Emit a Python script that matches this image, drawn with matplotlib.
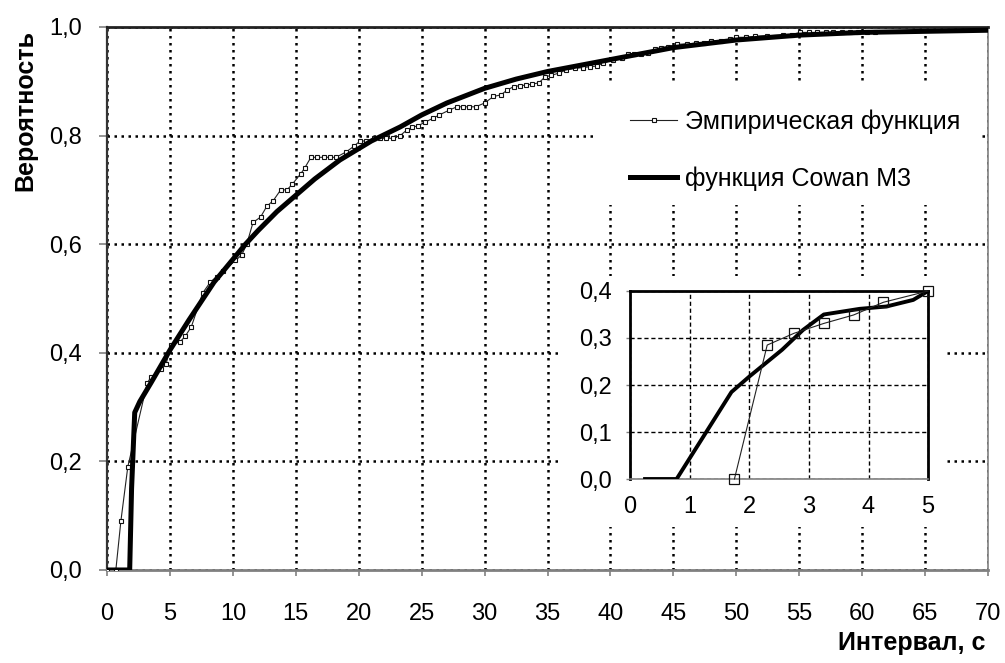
import matplotlib

matplotlib.use("Agg")
import matplotlib.pyplot as plt
from matplotlib.patches import Rectangle

plt.rcParams["font.family"] = ["Liberation Sans", "DejaVu Sans"]

# основной график: эмпирическая функция распределения интервалов
emp_x = [0, 0.7, 1.1, 1.65, 3.2, 3.5, 4.3, 4.7, 5.1, 5.8, 6.2, 6.7, 7.6, 8.2, 8.7,
         9.2, 10.2, 10.7, 11.1, 11.6, 12.2, 12.7, 13.2, 13.8, 14.3, 14.7, 15.4,
         15.7, 16.2, 16.7, 17.2, 17.7, 18.2, 19.0, 19.6, 20.1, 20.6, 21.2, 21.7,
         22.2, 22.7, 23.3, 23.8, 24.2, 24.7, 25.3, 25.9, 26.4, 27.2, 27.8, 28.3,
         28.8, 29.3, 30.0, 30.7, 31.3, 31.8, 32.3, 32.8, 33.3, 33.8, 34.3, 34.8,
         35.3, 35.9, 36.5, 37.2, 37.8, 38.4, 38.9, 39.4, 40.2, 40.9, 41.4, 41.9,
         42.4, 43.0, 43.5, 44.0, 44.6, 45.3, 46.1, 46.8, 47.4, 48.0, 48.8, 49.5,
         50.0, 50.8, 51.5, 52.4, 53.7, 54.4, 55.1, 55.8, 56.4, 57.1, 57.7, 58.4,
         59.0, 59.7, 60.4, 61.0]
emp_y = [0, 0, 0.09, 0.19, 0.345, 0.355, 0.37, 0.38, 0.415, 0.42, 0.43, 0.448,
         0.51, 0.53, 0.54, 0.55, 0.57, 0.58, 0.60, 0.64, 0.65, 0.67, 0.68, 0.70,
         0.70, 0.71, 0.73, 0.74, 0.76, 0.76, 0.76, 0.76, 0.76, 0.77, 0.78, 0.79,
         0.79, 0.795, 0.795, 0.795, 0.795, 0.80, 0.81, 0.815, 0.818, 0.825, 0.832,
         0.838, 0.847, 0.853, 0.853, 0.853, 0.853, 0.86, 0.872, 0.875, 0.884, 0.89,
         0.892, 0.893, 0.895, 0.897, 0.908, 0.911, 0.915, 0.921, 0.924, 0.925,
         0.927, 0.928, 0.933, 0.94, 0.943, 0.95, 0.951, 0.951, 0.952, 0.959, 0.962,
         0.964, 0.968, 0.969, 0.97, 0.971, 0.974, 0.975, 0.977, 0.981, 0.981,
         0.983, 0.984, 0.985, 0.986, 0.99, 0.99, 0.99, 0.99, 0.99, 0.99, 0.99,
         0.99, 0.99, 0.99]

cowan_x = [0, 1.8, 1.95, 2.2, 2.6, 3.5, 5.0, 6.5, 8.5, 11.0, 12.0, 13.5, 15.0,
           16.5, 18.5, 21.0, 23.3, 25.0, 27.0, 30.0, 32.5, 35.0, 40.0, 45.0,
           50.0, 55.0, 60.0, 65.0, 70.0]
cowan_y = [0, 0, 0.15, 0.29, 0.31, 0.345, 0.405, 0.46, 0.53, 0.60, 0.625, 0.66,
           0.69, 0.72, 0.755, 0.79, 0.816, 0.838, 0.86, 0.887, 0.904, 0.918,
           0.94, 0.962, 0.976, 0.985, 0.99, 0.992, 0.994]

# врезка: начальный участок
ins_emp_x = [1.75, 2.3, 2.75, 3.25, 3.75, 4.25, 5.0]
ins_emp_y = [0, 0.285, 0.31, 0.331, 0.349, 0.376, 0.40]
ins_cowan_x = [0.25, 0.78, 1.7, 2.0, 2.55, 2.9, 3.25, 3.85, 4.3, 4.75, 5.0]
ins_cowan_y = [0, 0, 0.185, 0.218, 0.275, 0.317, 0.35, 0.362, 0.367, 0.381, 0.40]

x_ticks = list(range(0, 75, 5))
y_ticks = [0, 0.2, 0.4, 0.6, 0.8, 1.0]
y_tick_labels = ["0,0", "0,2", "0,4", "0,6", "0,8", "1,0"]
ins_x_ticks = [0, 1, 2, 3, 4, 5]
ins_y_ticks = [0, 0.1, 0.2, 0.3, 0.4]
ins_y_tick_labels = ["0,0", "0,1", "0,2", "0,3", "0,4"]

fig = plt.figure(figsize=(10.05, 6.63), dpi=100)
ax = fig.add_axes([0.1065, 0.1403, 0.8766, 0.819])

ax.plot(emp_x, emp_y, color="#222222", linewidth=0.8, marker="s", markersize=3.5,
        markerfacecolor="white", markeredgecolor="#111111", markeredgewidth=0.8,
        label="Эмпирическая функция", zorder=3)
ax.plot(cowan_x, cowan_y, color="black", linewidth=3.6, label="функция Cowan M3",
        zorder=4)

ax.set_xlim(0, 70)
ax.set_ylim(0, 1.0)
ax.set_xticks(x_ticks)
ax.set_yticks(y_ticks)
ax.set_yticklabels(y_tick_labels)
ax.tick_params(axis="both", labelsize=17, direction="out", color="#808080",
               width=1.2)
ax.tick_params(axis="x", length=4, pad=20)
ax.tick_params(axis="y", length=6, pad=12)
ax.grid(True, color="black", linestyle=(0, (1, 1.8)), linewidth=1.8)
ax.spines["left"].set_color("#333333")
ax.spines["left"].set_linewidth(1.6)
ax.spines["top"].set_color("#222222")
ax.spines["top"].set_linewidth(2.0)
ax.spines["bottom"].set_color("#808080")
ax.spines["bottom"].set_linewidth(2.0)
ax.spines["right"].set_color("#808080")
ax.spines["right"].set_linewidth(1.2)

# белые подложки под легенду и врезку
ax.add_patch(Rectangle((0.554, 0.672), 0.439, 0.225, transform=ax.transAxes,
                       facecolor="white", edgecolor="none", zorder=1.8))
ax.add_patch(Rectangle((0.512, 0.079), 0.439, 0.462, transform=ax.transAxes,
                       facecolor="white", edgecolor="none", zorder=1.8))

ax.legend(loc="upper left", bbox_to_anchor=(0.582, 0.866), frameon=False,
          fontsize=18, handlelength=1.9, handletextpad=0.32, labelspacing=1.3,
          borderaxespad=0)

fig.text(0.025, 0.955, "Вероятность", rotation=90, ha="center", va="top",
         fontsize=18, fontweight="bold")
fig.text(0.98, 0.030, "Интервал, с", ha="right", va="center", fontsize=18,
         fontweight="bold")

# врезка
ins = fig.add_axes([0.627, 0.2775, 0.2965, 0.2836])
ins.plot(ins_cowan_x, ins_cowan_y, color="black", linewidth=2.8, zorder=3)
ins.plot(ins_emp_x, ins_emp_y, color="#222222", linewidth=0.8, marker="s",
         markersize=7, markerfacecolor="none", markeredgecolor="#111111",
         markeredgewidth=0.9, zorder=4, clip_on=False)
ins.set_xlim(0, 5)
ins.set_ylim(0, 0.4)
ins.set_xticks(ins_x_ticks)
ins.set_yticks(ins_y_ticks)
ins.set_yticklabels(ins_y_tick_labels)
ins.tick_params(axis="both", labelsize=17, direction="out", color="#808080",
                length=3, width=1.0)
ins.tick_params(axis="x", length=0, pad=12)
ins.tick_params(axis="y", pad=10)
ins.grid(True, color="black", linestyle=(0, (3, 2)), linewidth=1.0)
for side in ("left", "top", "right"):
    ins.spines[side].set_color("black")
    ins.spines[side].set_linewidth(2.0)
ins.spines["bottom"].set_color("#808080")
ins.spines["bottom"].set_linewidth(1.2)

fig.savefig("out.png", dpi=100)
